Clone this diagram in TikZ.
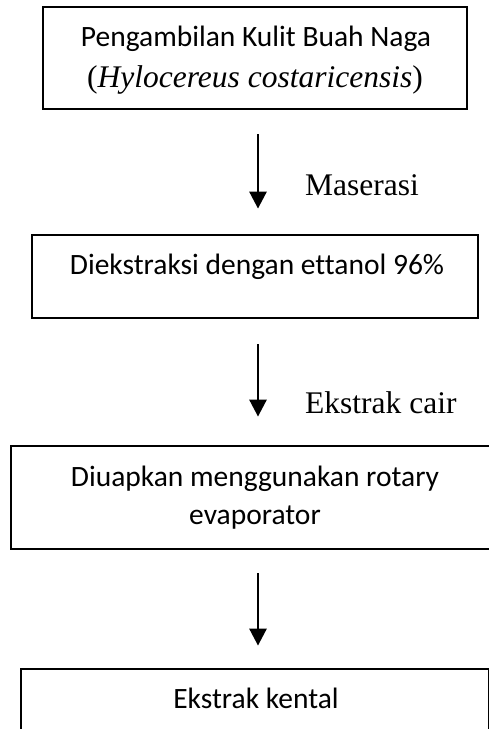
\documentclass[tikz,border=0pt]{standalone}
\usepackage{fontspec}
\usepackage{tikz}
\usetikzlibrary{arrows.meta}
\setmainfont{Carlito}[Ligatures=CommonOff]
\newfontfamily\tnr{Liberation Serif}

\begin{document}
\begin{tikzpicture}[x=1pt, y=-1pt,
    kotak/.style={draw, line width=2.8pt, inner sep=0pt},
    isi/.style={anchor=base, inner sep=0pt, font=\fontsize{29.5}{36}\selectfont},
    ket/.style={anchor=base west, inner sep=0pt, font=\tnr\fontsize{31.5}{38}\selectfont},
    panah/.style={line width=2.8pt, -{Triangle[width=17pt, length=17pt]}}]
        \useasboundingbox (0,0) rectangle (488,729);
        % kotak proses
        \node[kotak, minimum width=424pt, minimum height=102pt] (k1) at (255,58) {};
        \node[kotak, minimum width=446pt, minimum height=83pt] (k2) at (255,276.5) {};
        \node[kotak, minimum width=488pt, minimum height=103pt] (k3) at (255,497.5) {};
        \node[kotak, minimum width=468pt, minimum height=83pt] (k4) at (255,710.5) {};
        % isi kotak
        \node[isi] (t1a) at (256,46) {Pengambilan Kulit Buah Naga};
        \node[isi, font=\tnr\fontsize{31.5}{38}\selectfont] (t1b) at (255,87) {(\textit{Hylocereus costaricensis})};
        \node[isi] (t2) at (257,274) {Diekstraksi dengan ettanol 96\%};
        \node[isi] (t3a) at (255,486) {Diuapkan menggunakan rotary};
        \node[isi] (t3b) at (255,524) {evaporator};
        \node[isi] (t4) at (256,708) {Ekstrak kental};
        % panah
        \draw[panah, shorten <=24pt, shorten >=25pt] ([xshift=3pt]k1.south) -- ([xshift=3pt]k2.north);
        \draw[panah, shorten <=25pt, shorten >=28pt] ([xshift=3pt]k2.south) -- ([xshift=3pt]k3.north);
        \draw[panah, shorten <=23pt, shorten >=22pt] ([xshift=3pt]k3.south) -- ([xshift=3pt]k4.north);
        \node[ket] (m1) at (305,195) {Maserasi};
        \node[ket] (m2) at (305,413) {Ekstrak cair};
\end{tikzpicture}
\end{document}
